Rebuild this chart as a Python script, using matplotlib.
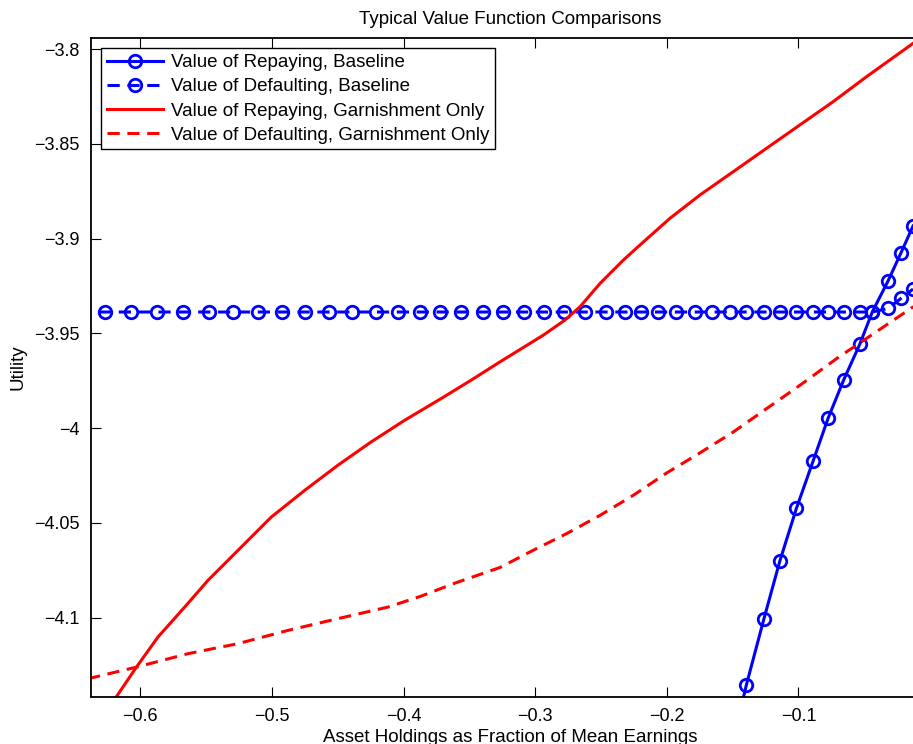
import matplotlib
matplotlib.use("Agg")
import matplotlib.pyplot as plt
from matplotlib.ticker import FuncFormatter

plt.rcParams['font.family'] = ['Liberation Sans', 'DejaVu Sans']

# asset grid (shared by the baseline series)
grid_x = [-0.6466, -0.6266, -0.6068, -0.5873, -0.5676, -0.5480, -0.5296, -0.5106,
          -0.4924, -0.4746, -0.4568, -0.4391, -0.4209, -0.4040, -0.3875, -0.3723,
          -0.3563, -0.3398, -0.3242, -0.3084, -0.2930, -0.2780, -0.2621, -0.2460,
          -0.2317, -0.2193, -0.2066, -0.1932, -0.1787, -0.1653, -0.1521, -0.1395,
          -0.1263, -0.1141, -0.1015, -0.0888, -0.0774, -0.0655, -0.0533, -0.0438,
          -0.0318, -0.0220, -0.0129]

# value of defaulting, baseline (flat until near zero)
default_base = [-3.9387] * 40 + [-3.9368, -3.9315, -3.9266]

# value of repaying, baseline (only the right end is inside the axes)
repay_x = [-0.1521, -0.1395, -0.1263, -0.1141, -0.1015, -0.0888, -0.0774,
           -0.0655, -0.0533, -0.0438, -0.0318, -0.0220, -0.0129]
repay_base = [-4.1727, -4.1354, -4.1009, -4.0701, -4.0423, -4.0173, -3.9947,
              -3.9744, -3.9556, -3.9386, -3.9222, -3.9074, -3.8933]

# garnishment only
garn_repay_x = [-0.6268, -0.6175, -0.6030, -0.5866, -0.5663, -0.5486, -0.5283,
                -0.5005, -0.4751, -0.4498, -0.4245, -0.3991, -0.3713, -0.3485,
                -0.3267, -0.2938, -0.2773, -0.2659, -0.2507, -0.2330, -0.2203,
                -0.1975, -0.1747, -0.1494, -0.1240, -0.0987, -0.0734, -0.0480,
                -0.0126]
garn_repay = [-4.1506, -4.1410, -4.1261, -4.1102, -4.0944, -4.0803, -4.0662,
              -4.0469, -4.0328, -4.0195, -4.0072, -3.9958, -3.9843, -3.9746,
              -3.9650, -3.9509, -3.9429, -3.9359, -3.9236, -3.9113, -3.9033,
              -3.8892, -3.8769, -3.8646, -3.8522, -3.8399, -3.8276, -3.8144,
              -3.7968]

garn_default_x = [-0.6397, -0.6030, -0.5638, -0.5258, -0.4877, -0.4498, -0.4118,
                  -0.3865, -0.3611, -0.3267, -0.3014, -0.2760, -0.2507, -0.2254,
                  -0.2000, -0.1747, -0.1494, -0.1240, -0.0987, -0.0708, -0.0126]
garn_default = [-4.1322, -4.1261, -4.1190, -4.1137, -4.1067, -4.1005, -4.0944,
                -4.0886, -4.0818, -4.0735, -4.0644, -4.0556, -4.0460, -4.0354,
                -4.0236, -4.0130, -4.0020, -3.9896, -3.9773, -3.9632, -3.9359]

xticks = [-0.6, -0.5, -0.4, -0.3, -0.2, -0.1]
yticks = [-4.1, -4.05, -4.0, -3.95, -3.9, -3.85, -3.8]

fig = plt.figure(figsize=(9.13, 7.44), dpi=100)
ax = fig.add_axes([91 / 913, 47.5 / 744, (930 - 91) / 913, (696.5 - 38) / 744])

LW = 2.2
ax.plot(repay_x, repay_base, '-', color='#0000ff', lw=LW, marker='o',
        ms=9, mew=2, mfc='none', label='Value of Repaying, Baseline')
ax.plot(grid_x, default_base, color='#0000ff', lw=LW, ls=(0, (4, 2.5)),
        marker='o', ms=9, mew=2, mfc='none', label='Value of Defaulting, Baseline')
ax.plot(garn_repay_x, garn_repay, '-', color='#ff0000', lw=LW,
        label='Value of Repaying, Garnishment Only')
ax.plot(garn_default_x, garn_default, color='#ff0000', lw=LW, ls=(0, (4, 2.5)),
        label='Value of Defaulting, Garnishment Only')

ax.set_xlim(-0.6375, 0.0)
ax.set_ylim(-4.1416, -3.7941)
ax.set_xticks(xticks)
ax.set_yticks(yticks)
fmt = FuncFormatter(lambda v, p: ('%g' % round(v, 4)).replace('-', '\u2212'))
ax.xaxis.set_major_formatter(fmt)
ax.yaxis.set_major_formatter(fmt)
ax.tick_params(direction='in', length=7, width=0.8, top=True, right=True,
               labelsize=13, pad=8)
for s in ax.spines.values():
    s.set_linewidth(1.3)

ax.set_title('Typical Value Function Comparisons', fontsize=13.5, pad=10)
ax.set_xlabel('Asset Holdings as Fraction of Mean Earnings', fontsize=13.5, labelpad=3)
ax.set_ylabel('Utility', fontsize=13.5, labelpad=6)

leg = ax.legend(loc='upper left', fontsize=13.5, fancybox=False, framealpha=1,
                edgecolor='black', handlelength=3.0, borderaxespad=0.55,
                labelspacing=0.38, borderpad=0.3, handletextpad=0.4)
leg.get_frame().set_linewidth(1.0)

fig.savefig('out.png', dpi=100)
